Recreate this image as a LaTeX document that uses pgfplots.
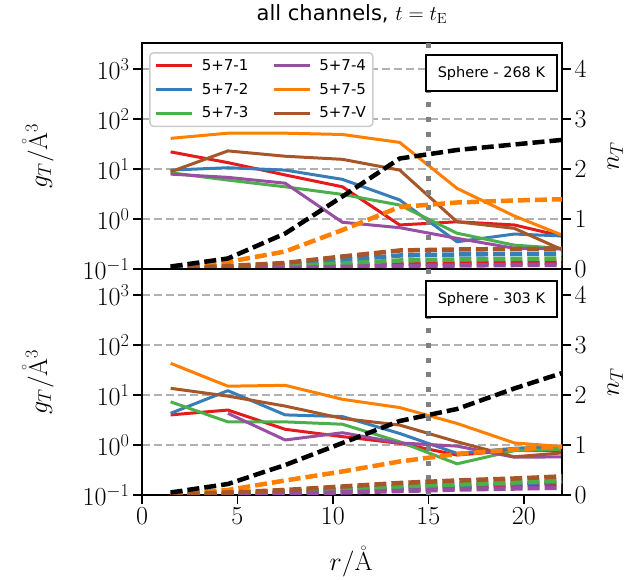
\RequirePackage{fix-cm}
\documentclass[border=0pt]{standalone}
\usepackage[no-math]{fontspec}
\setmainfont{DejaVu Sans}
\usepackage{pgfplots}
\usepackage{pgfplotstable}
\pgfplotsset{compat=1.18}

\definecolor{cR}{HTML}{E41A1C}
\definecolor{cB}{HTML}{377EB8}
\definecolor{cG}{HTML}{4DAF4A}
\definecolor{cP}{HTML}{984EA3}
\definecolor{cO}{HTML}{FF7F00}
\definecolor{cV}{HTML}{A65628}
\definecolor{gridc}{HTML}{B0B0B0}
\definecolor{vlinec}{HTML}{808080}
\definecolor{legc}{HTML}{CCCCCC}

\pgfplotstableread{
x    r     b     g     p     o    v
1.5  22    9.5   8.4   7.9   41   8.8
4.5  13.4  10.6  6.0   6.8   52   23
7.5  7.6   9.5   4.4   5.2   52   18
10.5 4.4   6.2   3.1   0.86  49   15.6
13.5 0.76  2.4   1.9   0.67  34   9.5
16.5 0.88  0.35  0.52  0.41  4.1  0.88
19.5 0.76  0.50  0.30  0.26  1.15 0.65
22.5 0.41  0.45  0.25  0.25  0.40 0.20
}\topsol

\pgfplotstableread{
x    k     o     v     b     g     r     p
1.5  0.05  0.03  0.01  0.01  0.005 0.003 0.003
4.5  0.21  0.14  0.06  0.04  0.02  0.01  0.01
7.5  0.71  0.35  0.12  0.09  0.05  0.03  0.02
10.5 1.45  0.78  0.25  0.18  0.11  0.06  0.04
13.5 2.21  1.24  0.37  0.27  0.17  0.10  0.06
16.5 2.38  1.33  0.39  0.29  0.19  0.11  0.07
19.5 2.49  1.37  0.40  0.30  0.20  0.12  0.08
22.5 2.60  1.40  0.41  0.31  0.21  0.13  0.08
}\topdash

\pgfplotstableread{
x    r     b     g     p     o    v
1.5  4.0   4.3   7.3   nan   43   13.6
4.5  5.0   12.2  2.9   4.3   15   9.5
7.5  2.06  4.0   2.9   1.26  15.6 6.0
10.5 1.47  3.7   2.6   1.76  8.2  3.4
13.5 1.08  1.7   1.16  1.1   5.6  2.5
16.5 0.63  0.68  0.42  0.95  2.7  1.16
19.5 0.78  0.86  0.77  0.57  1.1  0.58
22.5 0.76  0.95  0.82  0.58  0.9  0.72
}\botsol

\pgfplotstableread{
x    k     o     v     b     g     r     p
1.5  0.05  0.02  0.01  0.005 0.005 0.003 0.003
4.5  0.22  0.10  0.05  0.03  0.03  0.015 0.01
7.5  0.60  0.29  0.10  0.06  0.07  0.04  0.03
10.5 1.04  0.47  0.17  0.11  0.12  0.07  0.05
13.5 1.48  0.67  0.24  0.16  0.17  0.11  0.08
16.5 1.72  0.82  0.29  0.20  0.21  0.15  0.11
19.5 2.13  0.91  0.33  0.23  0.25  0.19  0.13
22.5 2.50  0.98  0.38  0.27  0.30  0.24  0.15
}\botdash

\pgfplotsset{
  panel/.style={scale only axis, width=420pt, height=226pt, xmin=0, xmax=22, clip=true,
    axis line style={line width=2pt},
    every tick/.style={black, line width=1.6pt}, major tick length=9pt, tick align=outside,
    tick label style={font=\fontsize{26}{30}\selectfont},
    xlabel style={font=\fontsize{26}{30}\selectfont},
    ylabel style={font=\fontsize{26}{30}\selectfont}},
  leftax/.style={panel, ymin=0.1, ymax=3311, ytick={0.1,1,10,100,1000},
    yminorticks=false, ytick pos=left, ymajorgrids,
    major grid style={gridc, line width=1.8pt, dash pattern=on 8pt off 4pt},
    ylabel={$g_T/\mathring{\mathrm{A}}^3$},
    ylabel style={at={(axis description cs:-0.2476,0.5)}, anchor=center}},
  rightax/.style={panel, axis x line=none, axis y line*=right, ymin=0, ymax=4.52,
    ytick={0,1,2,3,4}, ylabel={$n_T$},
    ylabel style={at={(axis description cs:1.127,0.5)}, anchor=center}},
  sol/.style={line width=3pt, no marks, line join=round},
  das/.style={line width=4.5pt, no marks, dash pattern=on 12pt off 5pt},
  vln/.style={vlinec, line width=5pt, dash pattern=on 5pt off 9.7pt, no marks, forget plot},
}
\tikzset{sbox/.style={draw=black, line width=2pt, fill=white, minimum width=131pt, minimum height=36pt,
    inner sep=0pt, font=\fontsize{14.5}{16}\selectfont}}

\begin{document}
\begin{tikzpicture}
\path[use as bounding box] (-142pt,-85pt) rectangle (485pt,495pt);

% ---------------- top panel ----------------
\begin{axis}[ymode=log, leftax, at={(0,226pt)}, anchor=south west, xtick=\empty,
  title={all channels, $t=t_{\mathrm{E}}$},
  title style={at={(axis description cs:0.5,1.075)}, anchor=base, font=\fontsize{21}{24}\selectfont},
  legend style={at={(rel axis cs:0.0167,0.96)}, anchor=north west, draw=legc, line width=1.5pt,
    rounded corners=4pt, fill=white, font=\fontsize{15}{17}\selectfont,
    /tikz/every even column/.append style={column sep=22pt},
    row sep=7pt, inner xsep=5pt, inner ysep=5pt},
  legend columns=2, legend cell align=left,
  legend image code/.code={\draw[#1] (0pt,0pt) -- (36pt,0pt); \path (42pt,0pt);}]
\addplot[sol, cR, forget plot] table[x=x, y=r] {\topsol};
\addplot[sol, cB, forget plot] table[x=x, y=b] {\topsol};
\addplot[sol, cG, forget plot] table[x=x, y=g] {\topsol};
\addplot[sol, cP, forget plot] table[x=x, y=p] {\topsol};
\addplot[sol, cO, forget plot] table[x=x, y=o] {\topsol};
\addplot[sol, cV, forget plot] table[x=x, y=v] {\topsol};
\addlegendimage{cR, line width=3pt}\addlegendentry{5+7-1}
\addlegendimage{cP, line width=3pt}\addlegendentry{5+7-4}
\addlegendimage{cB, line width=3pt}\addlegendentry{5+7-2}
\addlegendimage{cO, line width=3pt}\addlegendentry{5+7-5}
\addlegendimage{cG, line width=3pt}\addlegendentry{5+7-3}
\addlegendimage{cV, line width=3pt}\addlegendentry{5+7-V}
\end{axis}
\begin{axis}[rightax, at={(0,226pt)}, anchor=south west]
\addplot[vln] coordinates {(15,0) (15,4.52)};
\addplot[das, cR] table[x=x, y=r] {\topdash};
\addplot[das, cB] table[x=x, y=b] {\topdash};
\addplot[das, cG] table[x=x, y=g] {\topdash};
\addplot[das, cP] table[x=x, y=p] {\topdash};
\addplot[das, cO] table[x=x, y=o] {\topdash};
\addplot[das, cV] table[x=x, y=v] {\topdash};
\addplot[das, black] table[x=x, y=k] {\topdash};
\node[sbox] at (rel axis cs:0.832,0.866) {Sphere - 268 K};
\end{axis}

% ---------------- bottom panel ----------------
\begin{axis}[ymode=log, leftax, at={(0,0)}, anchor=south west, xtick={0,5,10,15,20}, xtick pos=bottom,
  xlabel={$r/\mathring{\mathrm{A}}$},
  xlabel style={at={(axis description cs:0.498,-0.296)}, anchor=center}]
\addplot[sol, cR] table[x=x, y=r] {\botsol};
\addplot[sol, cB] table[x=x, y=b] {\botsol};
\addplot[sol, cG] table[x=x, y=g] {\botsol};
\addplot[sol, cP] table[x=x, y=p] {\botsol};
\addplot[sol, cO] table[x=x, y=o] {\botsol};
\addplot[sol, cV] table[x=x, y=v] {\botsol};
\end{axis}
\begin{axis}[rightax, at={(0,0)}, anchor=south west]
\addplot[vln] coordinates {(15,0) (15,4.52)};
\addplot[das, cR] table[x=x, y=r] {\botdash};
\addplot[das, cB] table[x=x, y=b] {\botdash};
\addplot[das, cG] table[x=x, y=g] {\botdash};
\addplot[das, cP] table[x=x, y=p] {\botdash};
\addplot[das, cO] table[x=x, y=o] {\botdash};
\addplot[das, cV] table[x=x, y=v] {\botdash};
\addplot[das, black] table[x=x, y=k] {\botdash};
\node[sbox] at (rel axis cs:0.832,0.866) {Sphere - 303 K};
\end{axis}
\end{tikzpicture}
\end{document}
